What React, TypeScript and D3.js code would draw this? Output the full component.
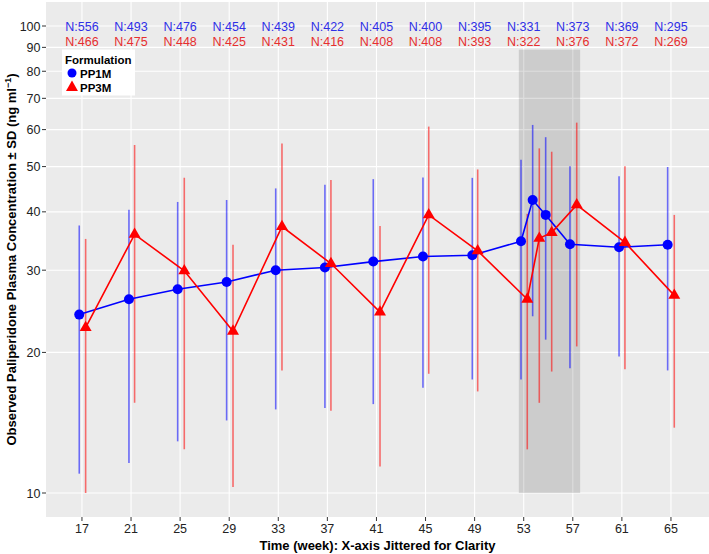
import React from 'react';
import * as d3 from 'd3';

// tick values
const weekTicks = [17, 21, 25, 29, 33, 37, 41, 45, 49, 53, 57, 61, 65];
const concTicks = [10, 20, 30, 40, 50, 60, 70, 80, 90, 100];

// sample sizes shown above each visit
const nPP1M = [556, 493, 476, 454, 439, 422, 405, 400, 395, 331, 373, 369, 295];
const nPP3M = [466, 475, 448, 425, 431, 416, 408, 408, 393, 322, 376, 372, 269];

// PP1M (jittered week, mean, mean - SD, mean + SD)
const timePP1M = [16.78, 20.83, 24.8, 28.79, 32.79, 36.8, 40.74, 44.79, 48.81, 52.78, 53.73, 54.79, 56.77, 60.77, 64.73];
const meanPP1M = [24.1, 26.0, 27.3, 28.3, 30.0, 30.4, 31.3, 32.1, 32.3, 34.6, 42.4, 39.4, 34.1, 33.6, 34.0];
const lowPP1M = [11.0, 11.6, 12.9, 14.3, 15.1, 15.2, 15.5, 16.8, 17.5, 17.5, 23.9, 21.3, 18.5, 19.6, 18.3];
const highPP1M = [37.4, 40.4, 42.0, 42.4, 44.9, 45.7, 47.0, 47.4, 47.3, 51.7, 61.4, 57.8, 50.1, 47.7, 49.9];

// PP3M
const timePP3M = [17.3, 21.29, 25.34, 29.31, 33.3, 37.29, 41.29, 45.26, 49.25, 53.29, 54.27, 55.28, 57.32, 61.25, 65.27];
const meanPP3M = [22.6, 35.8, 29.9, 22.2, 37.2, 31.0, 24.4, 39.4, 33.0, 26.0, 35.1, 36.1, 41.4, 34.4, 26.5];
const lowPP3M = [10.0, 15.6, 12.4, 10.3, 18.3, 15.0, 11.4, 18.0, 16.5, 12.4, 15.6, 18.2, 20.6, 18.4, 13.8];
const highPP3M = [35.0, 55.6, 47.3, 34.0, 56.0, 46.8, 37.3, 60.9, 49.3, 39.6, 54.7, 53.8, 62.1, 50.1, 39.4];

// highlighted window (weeks, concentration)
const shadeWeeks = [52.6, 57.6];
const shadeConc = [10, 89];

const W = 709;
const H = 554;
const panel = { left: 46, right: 709, top: 2, bottom: 517 };
const font = 'Liberation Sans, Arial, sans-serif';

const App = () => {
  const x = d3.scaleLinear().domain([14.07, 68.1]).range([panel.left, panel.right]);
  const y = d3.scaleLog().domain([10, 100]).range([493, 26]);

  const series = [
    { name: 'PP1M', color: '#0000ff', text: '#2f2fe6', t: timePP1M, m: meanPP1M, lo: lowPP1M, hi: highPP1M },
    { name: 'PP3M', color: '#ff0000', text: '#e62f2f', t: timePP3M, m: meanPP3M, lo: lowPP3M, hi: highPP3M },
  ];

  const tri = d3.symbol().type(d3.symbolTriangle).size(62)();

  return (
    <svg
      width={W}
      height={H}
      style={{ position: 'absolute', left: 0, top: 0, background: '#fff' }}
      fontFamily={font}
    >
      {/* panel + grid */}
      <rect x={panel.left} y={panel.top} width={panel.right - panel.left} height={panel.bottom - panel.top} fill="#ebebeb" />
      {concTicks.map(v => (
        <line key={'gy' + v} x1={panel.left} x2={panel.right} y1={y(v)} y2={y(v)} stroke="#fff" strokeWidth={1.1} />
      ))}
      {weekTicks.map(w => (
        <line key={'gx' + w} x1={x(w)} x2={x(w)} y1={panel.top} y2={panel.bottom} stroke="#fff" strokeWidth={1.1} />
      ))}

      {/* shaded window */}
      <rect
        x={x(shadeWeeks[0])}
        width={x(shadeWeeks[1]) - x(shadeWeeks[0])}
        y={y(shadeConc[1])}
        height={y(shadeConc[0]) - y(shadeConc[1])}
        fill="#000"
        fillOpacity={0.13}
      />

      {/* error bars */}
      {series.map(s =>
        s.t.map((t, i) => (
          <line
            key={s.name + 'eb' + i}
            x1={x(t)}
            x2={x(t)}
            y1={y(s.lo[i])}
            y2={y(s.hi[i])}
            stroke={s.color}
            strokeOpacity={0.55}
            strokeWidth={1.6}
          />
        ))
      )}

      {/* connecting lines */}
      {series.map(s => {
        const path = d3
          .line<number>()
          .x((d, i) => x(s.t[i]))
          .y(d => y(d))(s.m);
        return <path key={s.name + 'ln'} d={path || ''} fill="none" stroke={s.color} strokeWidth={1.6} />;
      })}

      {/* markers */}
      {meanPP1M.map((m, i) => (
        <circle key={'c' + i} cx={x(timePP1M[i])} cy={y(m)} r={5} fill="#0000ff" />
      ))}
      {meanPP3M.map((m, i) => (
        <path key={'t' + i} d={tri || ''} transform={`translate(${x(timePP3M[i])},${y(m)})`} fill="#ff0000" />
      ))}

      {/* N labels */}
      {weekTicks.map((w, i) => (
        <g key={'n' + w} fontSize={12.5} textAnchor="middle">
          <text x={x(w)} y={31} fill={series[0].text}>{'N:' + nPP1M[i]}</text>
          <text x={x(w)} y={46} fill={series[1].text}>{'N:' + nPP3M[i]}</text>
        </g>
      ))}

      {/* legend */}
      <rect x={62} y={49.5} width={73} height={46} fill="#fff" />
      <text x={65} y={64} fontSize={11.5} fontWeight="bold" fill="#000">Formulation</text>
      <circle cx={72} cy={73} r={4.5} fill="#0000ff" />
      <text x={80} y={77.5} fontSize={11.5} fontWeight="bold" fill="#000">PP1M</text>
      <path d={tri || ''} transform="translate(72,87.5)" fill="#ff0000" />
      <text x={80} y={92} fontSize={11.5} fontWeight="bold" fill="#000">PP3M</text>

      {/* y axis */}
      {concTicks.map(v => (
        <g key={'yt' + v}>
          <line x1={panel.left - 4} x2={panel.left} y1={y(v)} y2={y(v)} stroke="#333" strokeWidth={1} />
          <text x={panel.left - 5.5} y={y(v) + 4.5} fontSize={12.5} textAnchor="end" fill="#222">{v}</text>
        </g>
      ))}
      {/* x axis */}
      {weekTicks.map(w => (
        <g key={'xt' + w}>
          <line x1={x(w)} x2={x(w)} y1={panel.bottom} y2={panel.bottom + 4} stroke="#333" strokeWidth={1} />
          <text x={x(w)} y={533} fontSize={12.5} textAnchor="middle" fill="#222">{w}</text>
        </g>
      ))}

      <text x={(panel.left + panel.right) / 2} y={550} fontSize={13} fontWeight="bold" textAnchor="middle" fill="#000">
        Time (week): X-axis Jittered for Clarity
      </text>
      <text
        transform={`translate(15.5,${(panel.top + panel.bottom) / 2}) rotate(-90)`}
        fontSize={13}
        fontWeight="bold"
        textAnchor="middle"
        fill="#000"
      >
        Observed Paliperidone Plasma Concentration ± SD (ng ml
        <tspan dy={-5} fontSize={9}>−1</tspan>
        <tspan dy={5}>)</tspan>
      </text>
    </svg>
  );
};

export default App;
